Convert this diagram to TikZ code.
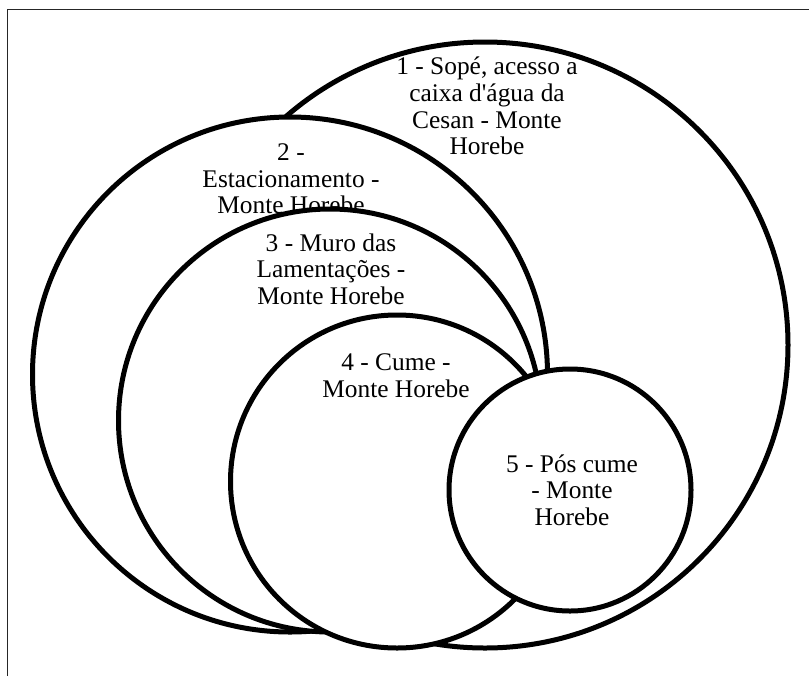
\documentclass[tikz,border=0pt]{standalone}
\usepackage{fontspec}
\setmainfont{Liberation Serif}
\usepackage{tikz}

\begin{document}
\begin{tikzpicture}[x=0.5pt,y=-0.5pt,
  ring/.style={circle,draw,fill=white,line width=2.5pt,inner sep=0pt,minimum size=#1},
  lbl/.style={align=center,inner sep=0pt,font=\fontsize{12.7}{13.3}\selectfont}]
\useasboundingbox (0,0) rectangle (809,676);
\draw[line width=0.8pt,black!85] (7.5,676) -- (7.5,9.5) -- (809,9.5);
% largest circle first, the others on top of it
\node[ring=303pt] (c1) at (485,345) {};
\node[lbl] (t1) at (487,106) {1 - Sopé, acesso a\\caixa d\textquotesingle água da\\Cesan - Monte\\Horebe};
\node[ring=257.5pt] (c2) at (290,374.5) {};
\node[lbl] (t2) at (291,179) {2 -\\Estacionamento -\\Monte Horebe};
\node[ring=211.5pt] (c3) at (330,420.5) {};
\node[lbl] (t3) at (331,269) {3 - Muro das\\Lamentações -\\Monte Horebe};
\node[ring=166.5pt] (c4) at (397,481.5) {};
\node[lbl] (t4) at (396,376) {4 - Cume -\\Monte Horebe};
\node[ring=121pt] (c5) at (570,490) {};
\node[lbl] (t5) at (572,490) {5 - Pós cume\\- Monte\\Horebe};
\end{tikzpicture}
\end{document}
